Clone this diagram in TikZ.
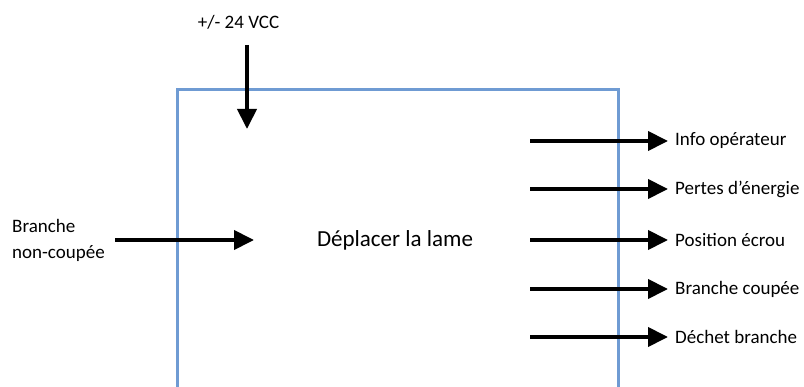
\documentclass[tikz,border=0pt]{standalone}
\usepackage{fontspec}
\setmainfont{Carlito}
\usetikzlibrary{arrows.meta}
\definecolor{boxblue}{HTML}{6F9BD3}
\tikzset{
  flow/.style={line width=4pt, -{Triangle[length=20pt,width=19pt]}},
  lbl/.style={font=\fontsize{19}{26}\selectfont, inner sep=0pt},
  mainlbl/.style={font=\fontsize{23}{27}\selectfont, inner sep=0pt},
}
\begin{document}
\begin{tikzpicture}[x=1pt,y=-1pt]
\useasboundingbox (0,0) rectangle (804,387);
\draw[boxblue, line width=3pt] (177,400) -- (177,90) -- (618,90) -- (618,400);
\clip (0,0) rectangle (804,387);
\node[lbl] (vcc) at (238.5,22) {+/- 24 VCC};
\coordinate (vccs) at (247,45);
\coordinate (vcce) at (247,129);
\draw[flow] (vccs) -- (vcce);
\node[lbl, align=left, anchor=west] (inp) at (12,240) {Branche\\non-coupée};
\coordinate (ins) at (115,240);
\coordinate (ine) at (254,240);
\draw[flow] (ins) -- (ine);
\node[mainlbl] (main) at (395,240) {Déplacer la lame};
\foreach \y/\t/\n in {141/Info opérateur/o1, 189/Pertes d’énergie/o2, 240/Position écrou/o3, 289/Branche coupée/o4, 337/Déchet branche/o5}{
  \coordinate (\n s) at (530,\y);
  \node[lbl, anchor=west] (\n) at (675,\y) {\t};
  \draw[flow, shorten >=7pt] (\n s) -- (\n.west);
}
\end{tikzpicture}
\end{document}
